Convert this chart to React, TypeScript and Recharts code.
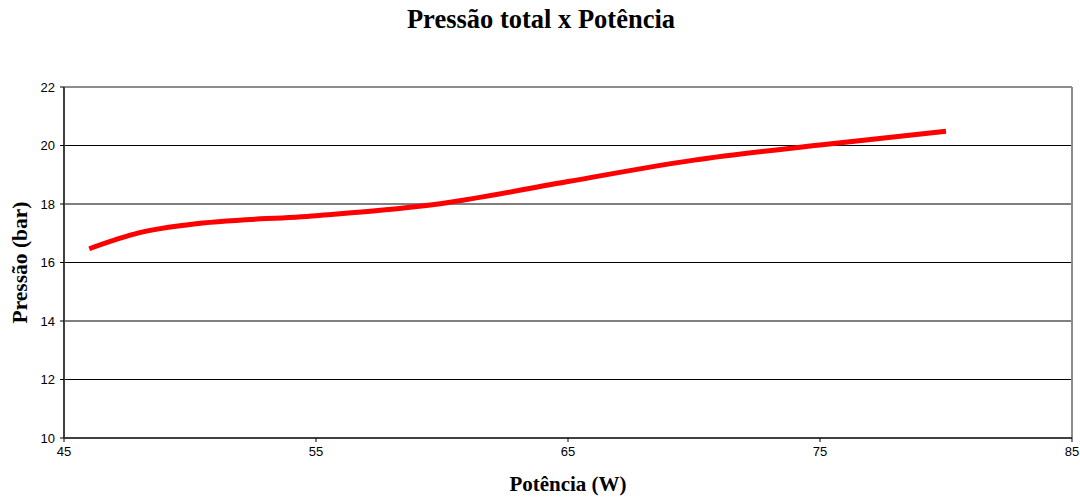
import React from 'react';
import { LineChart, Line, XAxis, YAxis, CartesianGrid, ReferenceLine } from 'recharts';

// potência (W) and pressão (bar)
const potencia = [46, 48, 50, 55, 60, 65, 70, 75, 80];
const pressao = [16.47, 17.02, 17.3, 17.6, 18.02, 18.77, 19.5, 20.02, 20.49];
const xTicks = [45, 55, 65, 75, 85];
const yTicks = [10, 12, 14, 16, 18, 20, 22];

const data = potencia.map((p, i) => ({ potencia: p, pressao: pressao[i] }));

const serif = '"Liberation Serif", "Times New Roman", serif';
const sans = '"Liberation Sans", Arial, sans-serif';

const YTitle = (props: any) => {
  const { viewBox } = props;
  const cy = viewBox.y + viewBox.height / 2;
  return (
    <text x={27} y={cy} transform={`rotate(-90 27 ${cy})`} textAnchor="middle"
      fontFamily={serif} fontWeight="bold" fontSize={21.5} fill="#000">
      Pressão (bar)
    </text>
  );
};

const XTitle = (props: any) => {
  const { viewBox } = props;
  return (
    <text x={viewBox.x + viewBox.width / 2} y={491} textAnchor="middle"
      fontFamily={serif} fontWeight="bold" fontSize={21} fill="#000">
      Potência (W)
    </text>
  );
};

export default function App() {
  return (
    <div style={{ position: 'absolute', left: 0, top: 0, width: 1080, height: 497, background: '#fff' }}>
      <div style={{
        position: 'absolute', left: 0, top: 4, width: 1082, textAlign: 'center',
        fontFamily: serif, fontWeight: 'bold', fontSize: 26.5, color: '#000',
      }}>
        Pressão total x Potência
      </div>
      <LineChart width={1080} height={497} data={data} margin={{ top: 87, right: 8, bottom: 0, left: 0 }}>
        <CartesianGrid horizontal vertical={false} stroke="#000" strokeWidth={1} />
        <XAxis type="number" dataKey="potencia" domain={[45, 85]} ticks={xTicks} height={59}
          tick={{ fill: '#000', fontSize: 13, fontFamily: sans }}
          axisLine={{ stroke: '#404040', strokeWidth: 2 }} tickLine={{ stroke: '#000' }}
          tickSize={4} tickMargin={5} label={<XTitle />} />
        <YAxis type="number" domain={[10, 22]} ticks={yTicks} width={64}
          tick={{ fill: '#000', fontSize: 13, fontFamily: sans }}
          axisLine={{ stroke: '#404040', strokeWidth: 2 }} tickLine={{ stroke: '#000' }}
          tickSize={4} tickMargin={5} label={<YTitle />} />
        <ReferenceLine y={22} stroke="#8c8c8c" strokeWidth={2} />
        <ReferenceLine x={85} stroke="#8c8c8c" strokeWidth={2} />
        <Line type="monotone" dataKey="pressao" stroke="#ff0000" strokeWidth={5}
          dot={false} isAnimationActive={false} />
      </LineChart>
    </div>
  );
}
